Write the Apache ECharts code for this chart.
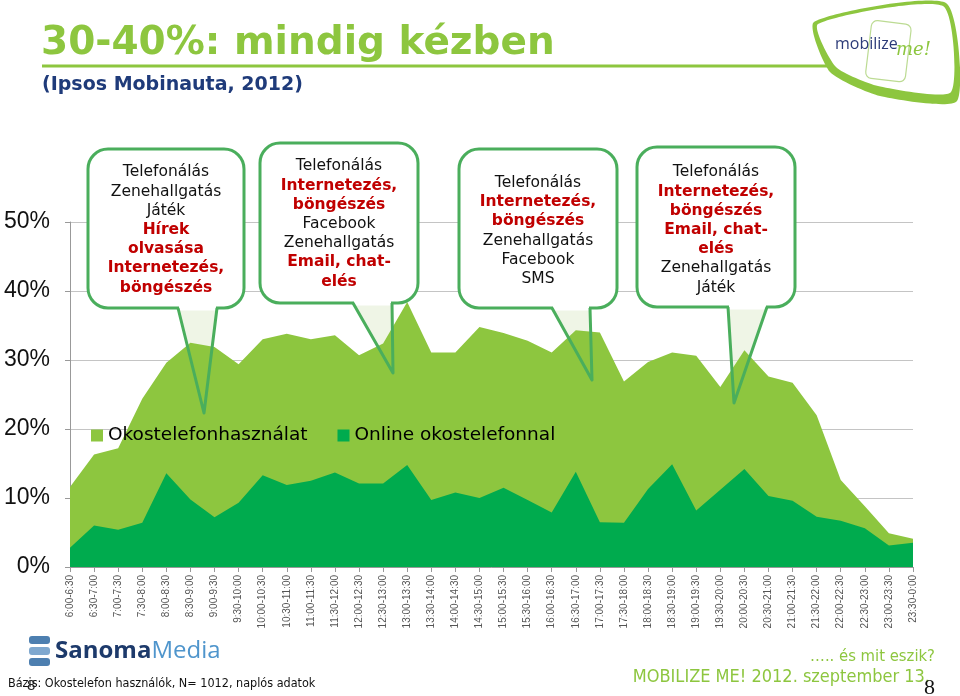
<!DOCTYPE html>
<html>
<head>
<meta charset="utf-8">
<title>30-40%: mindig kézben</title>
<script src="https://cdn.jsdelivr.net/npm/echarts@6/dist/echarts.min.js"></script>
<style>
    html, body { margin: 0; padding: 0; background: #fff; }
    #chart { width: 960px; height: 696px; }
</style>
</head>
<body>
<div id="chart"></div>
<script>
// idősávok (félórás bontás)
const timeSlots = [
    '6:00-6:30', '6:30-7:00', '7:00-7:30', '7:30-8:00', '8:00-8:30', '8:30-9:00',
    '9:00-9:30', '9:30-10:00', '10:00-10:30', '10:30-11:00', '11:00-11:30', '11:30-12:00',
    '12:00-12:30', '12:30-13:00', '13:00-13:30', '13:30-14:00', '14:00-14:30', '14:30-15:00',
    '15:00-15:30', '15:30-16:00', '16:00-16:30', '16:30-17:00', '17:00-17:30', '17:30-18:00',
    '18:00-18:30', '18:30-19:00', '19:00-19:30', '19:30-20:00', '20:00-20:30', '20:30-21:00',
    '21:00-21:30', '21:30-22:00', '22:00-22:30', '22:30-23:00', '23:00-23:30', '23:30-0:00'
];

// okostelefonhasználat (%)
const smartphoneUse = [
    11.6, 16.3, 17.2, 24.4, 29.6, 32.5, 31.9, 29.4, 33.0, 33.8, 33.0, 33.6,
    30.7, 32.4, 38.4, 31.1, 31.1, 34.8, 33.9, 32.8, 31.1, 34.3, 34.0, 26.9,
    29.7, 31.1, 30.6, 26.1, 31.4, 27.6, 26.7, 22.0, 12.6, 8.8, 4.9, 4.1
];

// online okostelefonnal (%)
const onlineUse = [
    2.8, 6.0, 5.4, 6.4, 13.6, 9.8, 7.2, 9.3, 13.3, 11.9, 12.5, 13.7,
    12.1, 12.1, 14.8, 9.7, 10.8, 10.0, 11.5, 9.7, 7.9, 13.8, 6.5, 6.4,
    11.3, 14.9, 8.2, 11.2, 14.2, 10.3, 9.6, 7.3, 6.7, 5.6, 3.1, 3.5
];

const seriesNames = ['Okostelefonhasználat', 'Online okostelefonnal'];

// buborékok szövege: [szöveg, stílus] - b = normál, r = piros félkövér
const bubbleTexts = [
    [['Telefonálás', 'b'], ['Zenehallgatás', 'b'], ['Játék', 'b'], ['Hírek', 'r'],
     ['olvasása', 'r'], ['Internetezés,', 'r'], ['böngészés', 'r']],
    [['Telefonálás', 'b'], ['Internetezés,', 'r'], ['böngészés', 'r'], ['Facebook', 'b'],
     ['Zenehallgatás', 'b'], ['Email, chat-', 'r'], ['elés', 'r']],
    [['Telefonálás', 'b'], ['Internetezés,', 'r'], ['böngészés', 'r'], ['Zenehallgatás', 'b'],
     ['Facebook', 'b'], ['SMS', 'b']],
    [['Telefonálás', 'b'], ['Internetezés,', 'r'], ['böngészés', 'r'], ['Email, chat-', 'r'],
     ['elés', 'r'], ['Zenehallgatás', 'b'], ['Játék', 'b']]
];

const LIGHT = '#8dc63f';
const DARK = '#00ab4e';
const BORDER = '#4aae5c';

// buborékok helye a képen (doboz + mutató csúcsa)
const bubbles = [
    {l: 88, t: 149, r: 244, b: 308, pl: 178, pr: 217, tx: 204, ty: 413, cy: 230},
    {l: 260, t: 143, r: 418, b: 303, pl: 353, pr: 392, tx: 393, ty: 373, cy: 224},
    {l: 459, t: 149, r: 617, b: 308, pl: 552, pr: 590, tx: 592, ty: 380, cy: 231},
    {l: 637, t: 147, r: 795, b: 307, pl: 728, pr: 767, tx: 734, ty: 403, cy: 230}
];

function bubbleGraphics(bb, lines) {
    const R = 20;
    const rich = lines.map(function (ln) { return '{' + ln[1] + '|' + ln[0] + '}'; }).join('\n');
    return [
        {
            type: 'polygon', z: 1,
            shape: {points: [[bb.pl, bb.b - 2], [bb.tx, bb.ty], [bb.pr, bb.b - 2]]},
            style: {fill: 'rgba(225,236,210,0.55)'}
        },
        {
            type: 'rect', z: 100,
            shape: {x: bb.l, y: bb.t, width: bb.r - bb.l, height: bb.b - bb.t, r: R},
            style: {fill: '#fff', stroke: BORDER, lineWidth: 3}
        },
        {
            type: 'line', z: 101,
            shape: {x1: bb.pl + 1, y1: bb.b, x2: bb.pr - 1, y2: bb.b},
            style: {stroke: '#fff', lineWidth: 5}
        },
        {
            type: 'polyline', z: 102,
            shape: {points: [[bb.pl, bb.b], [bb.tx, bb.ty], [bb.pr, bb.b]]},
            style: {fill: null, stroke: BORDER, lineWidth: 3, lineJoin: 'round'}
        },
        {
            type: 'text', z: 103,
            x: (bb.l + bb.r) / 2, y: bb.cy,
            style: {
                text: rich,
                align: 'center', verticalAlign: 'middle',
                lineHeight: 19.2,
                rich: {
                    b: {fontFamily: 'DejaVu Sans', fontSize: 15.5, fill: '#111', lineHeight: 19.2},
                    r: {fontFamily: 'DejaVu Sans', fontWeight: 'bold', fontSize: 15.5, fill: '#c00000', lineHeight: 19.2}
                }
            }
        }
    ];
}

let graphics = [];
for (let i = 0; i < bubbles.length; i++) {
    graphics = graphics.concat(bubbleGraphics(bubbles[i], bubbleTexts[i]));
}

// cím, alcím, logók, lábléc
graphics = graphics.concat([
    {
        type: 'text', x: 41, y: 44,
        style: {text: '30-40%: mindig kézben', fontFamily: 'DejaVu Sans', fontWeight: 'bold', fontSize: 39, fill: LIGHT, verticalAlign: 'middle'}
    },
    {
        type: 'line', shape: {x1: 42, y1: 66, x2: 832, y2: 66},
        style: {stroke: LIGHT, lineWidth: 3}
    },
    {
        type: 'text', x: 42, y: 85,
        style: {text: '(Ipsos Mobinauta, 2012)', fontFamily: 'DejaVu Sans', fontWeight: 'bold', fontSize: 19, fill: '#1f3b7a', verticalAlign: 'middle'}
    },
    // mobilize me! logó
    {
        type: 'polygon', z: 5,
        shape: {smooth: 0.2, points: [[814, 22], [946, 3], [957, 101], [880, 96], [830, 72]]},
        style: {fill: LIGHT}
    },
    {
        type: 'polygon', z: 6,
        shape: {smooth: 0.2, points: [[818, 24], [943, 6], [951, 92], [878, 86], [836, 67]]},
        style: {fill: '#fff'}
    },
    {
        type: 'rect', z: 7, rotation: -0.12, x: 872, y: 20,
        shape: {x: 0, y: 0, width: 40, height: 58, r: 6},
        style: {fill: 'none', stroke: '#bcdb93', lineWidth: 1.2}
    },
    {
        type: 'text', z: 8, x: 835, y: 44,
        style: {text: 'mobilize', fontFamily: 'Open Sans', fontSize: 16, fill: '#2b3a78', verticalAlign: 'middle'}
    },
    {
        type: 'text', z: 8, x: 896, y: 50,
        style: {text: 'me!', fontFamily: 'DejaVu Serif', fontStyle: 'italic', fontSize: 18, fill: LIGHT, verticalAlign: 'middle'}
    },
    // Sanoma Media logó
    {
        type: 'rect', shape: {x: 29, y: 636, width: 21, height: 8, r: 3},
        style: {fill: '#4d7fb0'}
    },
    {
        type: 'rect', shape: {x: 29, y: 647, width: 21, height: 8, r: 3},
        style: {fill: '#7fa8cf'}
    },
    {
        type: 'rect', shape: {x: 29, y: 658, width: 21, height: 8, r: 3},
        style: {fill: '#4d7fb0'}
    },
    {
        type: 'text', x: 55, y: 651,
        style: {
            text: '{a|Sanoma}{b|Media}', verticalAlign: 'middle',
            rich: {
                a: {fontFamily: 'Open Sans', fontWeight: 'bold', fontSize: 24, fill: '#1d3a6b'},
                b: {fontFamily: 'Open Sans', fontSize: 24, fill: '#4f95cc'}
            }
        }
    },
    {
        type: 'text', x: 8, y: 684,
        style: {text: 'Bázis: Okostelefon használók, N= 1012, naplós adatok', fontFamily: 'DejaVu Sans Condensed', fontSize: 12.5, fill: '#111', verticalAlign: 'middle'}
    },
    {
        type: 'text', x: 27, y: 686,
        style: {text: '8', fontFamily: 'Liberation Sans', fontSize: 15, fill: '#222', verticalAlign: 'middle'}
    },
    {
        type: 'text', x: 935, y: 657,
        style: {text: '….. és mit eszik?', fontFamily: 'DejaVu Sans Condensed', fontSize: 16.5, fill: LIGHT, align: 'right', verticalAlign: 'middle'}
    },
    {
        type: 'text', x: 930, y: 677,
        style: {text: 'MOBILIZE ME! 2012. szeptember 13.', fontFamily: 'DejaVu Sans Condensed', fontSize: 18, fill: LIGHT, align: 'right', verticalAlign: 'middle'}
    },
    {
        type: 'text', x: 924, y: 688,
        style: {text: '8', fontFamily: 'Liberation Serif', fontSize: 22, fill: '#111', verticalAlign: 'middle'}
    }
]);

let chart = echarts.init(document.getElementById('chart'));
chart.setOption({
    animation: false,
    backgroundColor: '#fff',
    color: [LIGHT, DARK],
    grid: {left: 70, right: 47, top: 222, bottom: 129, containLabel: false},
    legend: {
        data: seriesNames,
        left: 86, top: 421,
        icon: 'rect', itemWidth: 12, itemHeight: 12, itemGap: 30,
        textStyle: {fontFamily: 'DejaVu Sans', fontSize: 18.5, color: '#000'}
    },
    xAxis: {
        type: 'category',
        data: timeSlots,
        boundaryGap: false,
        axisLine: {lineStyle: {color: '#999'}},
        axisTick: {show: true, length: 5, lineStyle: {color: '#999'}},
        axisLabel: {interval: 0, rotate: 90, fontFamily: 'Liberation Sans', fontSize: 10, color: '#555', margin: 8}
    },
    yAxis: {
        type: 'value',
        min: 0, max: 50, interval: 10,
        axisLine: {show: true, lineStyle: {color: '#999'}},
        axisTick: {show: true, length: 5, lineStyle: {color: '#999'}},
        splitLine: {lineStyle: {color: '#c4c4c4'}},
        axisLabel: {formatter: '{value}%', fontFamily: 'Liberation Sans', fontSize: 23, color: '#111', margin: 20}
    },
    series: [
        {
            name: seriesNames[0], type: 'line', data: smartphoneUse,
            symbol: 'none', lineStyle: {width: 0}, areaStyle: {color: LIGHT, opacity: 1}
        },
        {
            name: seriesNames[1], type: 'line', data: onlineUse,
            symbol: 'none', lineStyle: {width: 0}, areaStyle: {color: DARK, opacity: 1}
        }
    ],
    graphic: graphics
});
</script>
</body>
</html>
